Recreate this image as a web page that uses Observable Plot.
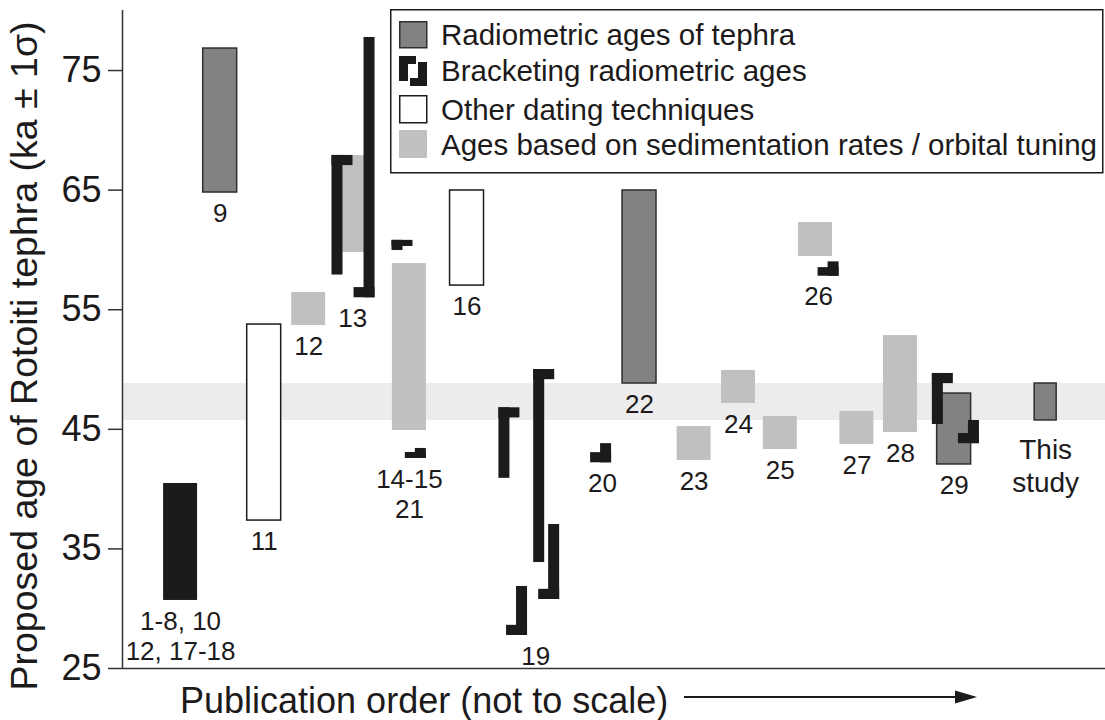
<!DOCTYPE html>
<html>
<head>
<meta charset="utf-8">
<script src="https://cdn.jsdelivr.net/npm/d3@7"></script>
<script src="https://cdn.jsdelivr.net/npm/@observablehq/plot@0.6"></script>
<style>
  html, body { margin: 0; padding: 0; background: white; }
  #chart { width: 1105px; height: 720px; }
</style>
</head>
<body>
<div id="chart"></div>
<script>
// ---------- DATA (ages in ka; order = publication order position, not to scale) ----------
const radiometric = [            // radiometric ages of tephra
  {order: 2.22,  lo: 64.8,  hi: 76.84},   // 9
  {order: 11.75, lo: 48.83, hi: 64.97},   // 22
  {order: 18.9,  lo: 42.06, hi: 47.99}    // 29
];
const otherTechniques = [        // other dating techniques
  {order: 3.22, lo: 37.37, hi: 53.76},    // 11
  {order: 7.83, lo: 57.02, hi: 64.97}     // 16
];
const sedimentation = [          // sedimentation rates / orbital tuning
  {order: 4.23,  lo: 53.68, hi: 56.44},   // 12
  {order: 5.26,  lo: 59.78, hi: 67.89},   // 13
  {order: 6.52,  lo: 44.9,  hi: 58.86},   // 14-15
  {order: 12.99, lo: 42.39, hi: 45.23},   // 23
  {order: 14.0,  lo: 47.16, hi: 49.92},   // 24
  {order: 14.95, lo: 43.31, hi: 46.07},   // 25
  {order: 15.75, lo: 59.45, hi: 62.29},   // 26
  {order: 16.69, lo: 43.73, hi: 46.49},   // 27
  {order: 17.68, lo: 44.73, hi: 52.84}    // 28
];
const combined = [               // 1-8, 10, 12, 17-18
  {order: 1.32, lo: 30.69, hi: 40.47}
];
const thisStudy = [
  {order: 20.98, lo: 45.74, hi: 48.83}
];
const brackets = [               // bracketing radiometric ages ("top" = Г, "bottom" = ˩)
  {order: 4.886, lo: 57.9,  hi: 67.9,  shape: "top"},     // 13
  {order: 5.614, lo: 56.0,  hi: 77.76, shape: "bottom"},  // 13
  {order: 6.25,  lo: 59.95, hi: 60.8,  shape: "top"},     // 14-15
  {order: 6.78,  lo: 42.56, hi: 43.4,  shape: "bottom"},  // 21
  {order: 8.68,  lo: 40.9,  hi: 46.8,  shape: "top"},     // 19
  {order: 9.47,  lo: 33.86, hi: 50.0,  shape: "top"},     // 19
  {order: 9.81,  lo: 30.77, hi: 37.04, shape: "bottom"},  // 19
  {order: 9.08,  lo: 27.76, hi: 31.86, shape: "bottom"},  // 19
  {order: 10.99, lo: 42.2,  hi: 43.8,  shape: "bottom"},  // 20
  {order: 16.16, lo: 57.8,  hi: 59.0,  shape: "bottom"},  // 26
  {order: 18.53, lo: 45.4,  hi: 49.67, shape: "top"},     // 29
  {order: 19.35, lo: 43.8,  hi: 45.74, shape: "bottom"}   // 29
];
const labels = [
  {text: "1-8, 10\n12, 17-18", order: 1.32,  below: 30.69},
  {text: "9",        order: 2.22,  below: 64.8},
  {text: "11",       order: 3.22,  below: 37.37},
  {text: "12",       order: 4.23,  below: 53.68},
  {text: "13",       order: 5.23,  below: 56.0},
  {text: "14-15\n21", order: 6.52, below: 42.56},
  {text: "16",       order: 7.83,  below: 57.02},
  {text: "19",       order: 9.39,  below: 27.76},
  {text: "20",       order: 10.91, below: 42.2},
  {text: "22",       order: 11.75, below: 48.83},
  {text: "23",       order: 12.99, below: 42.39},
  {text: "24",       order: 14.0,  below: 47.16},
  {text: "25",       order: 14.95, below: 43.31},
  {text: "26",       order: 15.82, below: 57.8},
  {text: "27",       order: 16.69, below: 43.73},
  {text: "28",       order: 17.68, below: 44.73},
  {text: "29",       order: 18.9,  below: 42.06}
];
const studyLabel = [{text: "This\nstudy", order: 20.98, below: 45.74}];
const yTicks = [25, 35, 45, 55, 65, 75];
const legendLabels = [
  "Radiometric ages of tephra",
  "Bracketing radiometric ages",
  "Other dating techniques",
  "Ages based on sedimentation rates / orbital tuning"
];
const yTitle = "Proposed age of Rotoiti tephra (ka ± 1σ)";
const xTitle = "Publication order (not to scale)";

// ---------- STYLE ----------
const FONT = "'Liberation Sans', Arial, Helvetica, sans-serif";
const INK = "#1c1a1a";
const C_RADIO = "#828282", C_SED = "#c0c0c0", C_BAND = "#ececec";
const barHalf = 0.386, studyHalf = 0.25;   // half widths in order units
const vw = 0.25, tw = 0.477;                // bracket stem / tab widths (order units)

const bracketParts = brackets.flatMap(b => {
  const th = Math.min(0.85, 0.6 * (b.hi - b.lo));
  const stem = {x1: b.order - vw / 2, x2: b.order + vw / 2, y1: b.lo, y2: b.hi};
  const tab = b.shape === "top"
    ? {x1: b.order - vw / 2, x2: b.order - vw / 2 + tw, y1: b.hi - th, y2: b.hi}
    : {x1: b.order + vw / 2 - tw, x2: b.order + vw / 2, y1: b.lo, y2: b.lo + th};
  return [stem, tab];
});

const barOpts = (half) => ({x1: d => d.order - half, x2: d => d.order + half, y1: "lo", y2: "hi"});

const chart = Plot.plot({
  width: 1105,
  height: 720,
  marginLeft: 122,
  marginRight: 0,
  marginTop: 10,
  marginBottom: 52,
  x: {domain: [0, 22.34], axis: null},
  y: {domain: [25, 80.02], axis: null},
  style: {fontFamily: FONT, background: "white", color: INK, overflow: "visible"},
  marks: [
    Plot.rect(thisStudy, {y1: "lo", y2: "hi", fill: C_BAND}),
    Plot.rect(combined, {...barOpts(barHalf), fill: INK}),
    Plot.rect(sedimentation, {...barOpts(barHalf), fill: C_SED}),
    Plot.rect(otherTechniques, {...barOpts(barHalf), fill: "white", stroke: INK, strokeWidth: 1.5}),
    Plot.rect(radiometric, {...barOpts(barHalf), fill: C_RADIO, stroke: "#2e2e2e", strokeWidth: 1.5}),
    Plot.rect(thisStudy, {...barOpts(studyHalf), fill: C_RADIO, stroke: "#2e2e2e", strokeWidth: 1.5}),
    Plot.rect(bracketParts, {x1: "x1", x2: "x2", y1: "y1", y2: "y2", fill: INK}),
    Plot.text(labels, {x: "order", y: "below", text: "text", lineAnchor: "top", dy: 8,
      fontSize: 26, lineHeight: 1.15, fill: INK}),
    Plot.text(studyLabel, {x: "order", y: "below", text: "text", lineAnchor: "top", dy: 16,
      fontSize: 28, lineHeight: 1.15, fill: INK}),
    Plot.ruleY([25], {stroke: "#333", strokeWidth: 1.5}),
    Plot.ruleX([0], {y1: 25, y2: 80.02, stroke: "#333", strokeWidth: 1.5}),
    Plot.axisY({ticks: yTicks, tickSize: 14, tickPadding: 7, fontSize: 36, label: null,
      tickFormat: d => String(d), stroke: "#333", strokeWidth: 1.5, fill: INK})
  ]
});

document.getElementById("chart").appendChild(chart);

// ---------- annotations: titles, arrow, legend ----------
const svg = d3.select(chart);
const ann = svg.append("g").attr("font-family", FONT).attr("fill", INK).attr("text-anchor", "start");

ann.append("text")
  .attr("transform", "translate(37,356) rotate(-90)")
  .attr("text-anchor", "middle")
  .attr("font-size", 37.5)
  .text(yTitle);

ann.append("text")
  .attr("x", 180).attr("y", 713)
  .attr("text-anchor", "start")
  .attr("font-size", 36)
  .text(xTitle);

ann.append("line")
  .attr("x1", 684).attr("x2", 958).attr("y1", 697).attr("y2", 697)
  .attr("stroke", INK).attr("stroke-width", 2);
ann.append("path")
  .attr("d", "M955,690.5 L977,697 L955,703.5 Z")
  .attr("fill", INK);

const lg = ann.append("g");
lg.append("rect")
  .attr("x", 390.75).attr("y", 9.75).attr("width", 712).attr("height", 163)
  .attr("fill", "white").attr("stroke", INK).attr("stroke-width", 1.5);
// row 1: radiometric swatch
lg.append("rect").attr("x", 399.75).attr("y", 21.75).attr("width", 27).attr("height", 26)
  .attr("fill", C_RADIO).attr("stroke", "#2e2e2e").attr("stroke-width", 1.5);
// row 2: bracket glyph
[[399, 56, 9, 25], [399, 56, 17, 8], [418, 62, 9, 24], [410, 78, 17, 8]].forEach(([x, y, w, h]) =>
  lg.append("rect").attr("x", x).attr("y", y).attr("width", w).attr("height", h).attr("fill", INK));
// row 3: other
lg.append("rect").attr("x", 399.75).attr("y", 95.75).attr("width", 27).attr("height", 27)
  .attr("fill", "white").attr("stroke", INK).attr("stroke-width", 1.5);
// row 4: sedimentation
lg.append("rect").attr("x", 399).attr("y", 130).attr("width", 28).attr("height", 28)
  .attr("fill", C_SED);
const baselines = [45, 81, 120, 155];
legendLabels.forEach((t, i) =>
  lg.append("text").attr("x", 441).attr("y", baselines[i]).attr("text-anchor", "start")
    .attr("font-size", 29.5).text(t));
</script>
</body>
</html>
